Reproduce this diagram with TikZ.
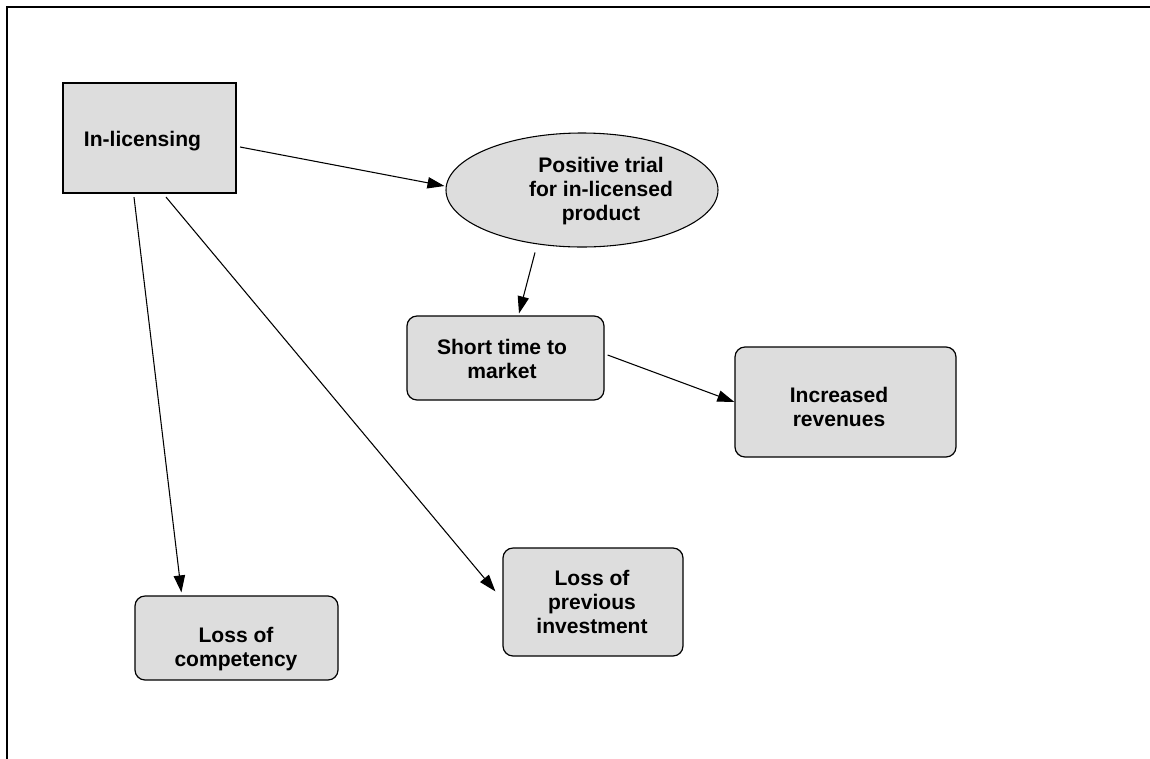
\documentclass[tikz,border=0pt]{standalone}
\usepackage{fontspec}
\setmainfont{Liberation Sans}
\usetikzlibrary{arrows.meta,shapes.geometric}
\definecolor{boxfill}{HTML}{DDDDDD}

\tikzset{
  shapebox/.style={draw=black, fill=boxfill, inner sep=0pt},
  roundbox/.style={shapebox, rectangle, rounded corners=7.5pt, line width=0.9pt},
  squarebox/.style={shapebox, rectangle, line width=1.6pt},
  oval/.style={shapebox, ellipse, line width=0.8pt},
  txt/.style={font=\fontsize{15.8pt}{18pt}\selectfont\bfseries, align=center,
    inner sep=0pt, draw=none, fill=none, text=black},
  arr/.style={-{Triangle[length=12.75pt,width=8.5pt]}, line width=0.8pt},
  frame/.style={line width=1.8pt}
}

\begin{document}
\begin{tikzpicture}[x=0.75pt,y=-0.75pt]
\useasboundingbox (0,0) rectangle (1150,758);

% outer frame (top and left edges)
\draw[frame] (7,760) -- (7,7) -- (1152,7);

% nodes
\node[squarebox, minimum width=129.75pt, minimum height=82.5pt,
  label={[txt, shift={(-7,3.5)}]center:In-licensing}] (inl) at (149.5,138) {};

\node[oval, minimum width=204pt, minimum height=85.5pt,
  label={[txt, shift={(19,0.6)}]center:{Positive trial\\for in-licensed\\product}}] (pos) at (582,190) {};

\node[roundbox, minimum width=147.75pt, minimum height=63pt,
  label={[txt, shift={(-3.5,1.3)}]center:{Short time to\\market}}] (short) at (505.5,358) {};

\node[roundbox, minimum width=165.75pt, minimum height=82.5pt,
  label={[txt, shift={(-6.5,5.3)}]center:{Increased\\revenues}}] (inc) at (845.5,402) {};

\node[roundbox, minimum width=152.25pt, minimum height=63pt,
  label={[txt, shift={(-0.5,11.5)}]center:{Loss of\\competency}}] (comp) at (236.5,638) {};

\node[roundbox, minimum width=135pt, minimum height=81pt,
  label={[txt, shift={(-1,0.3)}]center:{Loss of\\previous\\investment}}] (prev) at (593,602) {};

% connectors
\draw[arr] ([shift={(3,9)}]inl.east) -- ([shift={(-1,-4)}]pos.west);
\draw[arr] ([shift={(-15.5,3)}]inl.south) -- ([shift={(47,-3)}]comp.north west);
\draw[arr] ([shift={(16.5,3)}]inl.south) -- ([shift={(-7,44)}]prev.north west);
\draw[arr] ([shift={(-47,5)}]pos.south) -- ([shift={(13.5,-2)}]short.north);
\draw[arr] ([shift={(3,-3)}]short.east) -- (inc.west);
\end{tikzpicture}
\end{document}
